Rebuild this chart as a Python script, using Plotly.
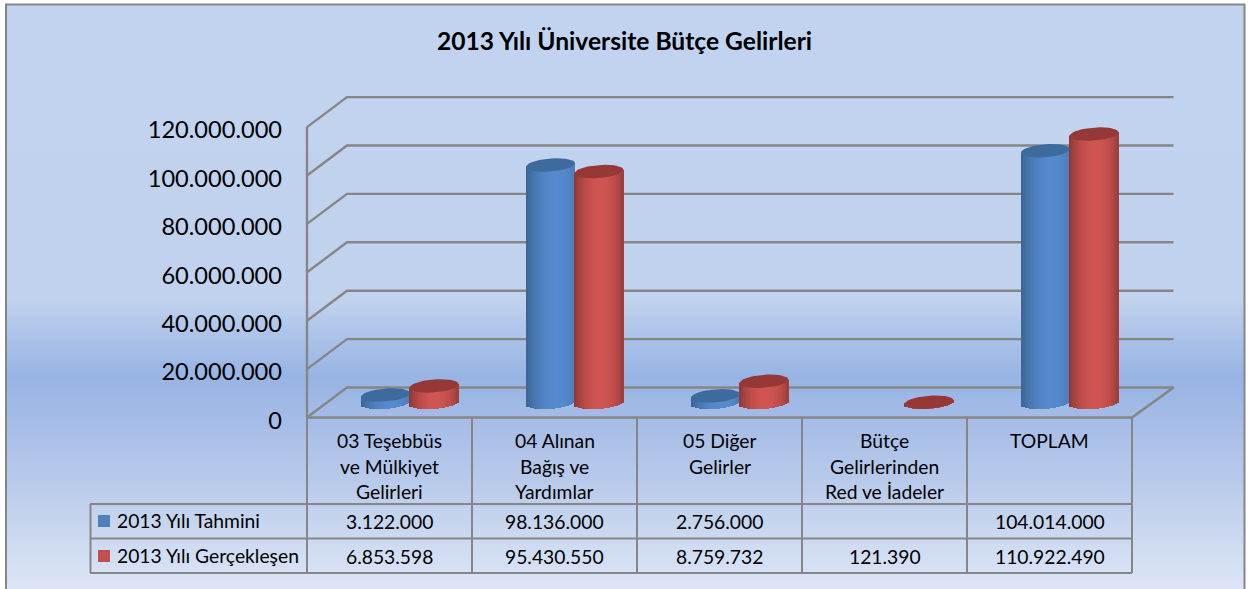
import math
import plotly.graph_objects as go

# ---- data ----
title = "2013 Yılı Üniversite Bütçe Gelirleri"
categories = [
    ["03 Teşebbüs", "ve Mülkiyet", "Gelirleri"],
    ["04 Alınan", "Bağış ve", "Yardımlar"],
    ["05 Diğer", "Gelirler"],
    ["Bütçe", "Gelirlerinden", "Red ve İadeler"],
    ["TOPLAM"],
]
tahmini_name = "2013 Yılı Tahmini"
gerceklesen_name = "2013 Yılı Gerçekleşen"
tahmini = [3122000, 98136000, 2756000, None, 104014000]
gerceklesen = [6853598, 95430550, 8759732, 121390, 110922490]
tick_values = [0, 20000000, 40000000, 60000000, 80000000, 100000000, 120000000]

# ---- layout geometry (pixels of the 1252x589 page) ----
W, H = 1252, 589
X0, CAT_W = 307, 165.0
Y0, PX_PER_UNIT = 417.5, 2.42e-6
DEPTH_X_PX, DEPTH_Y_PX = 40, 30
CYL_W_PX, CAP_B_PX, CAP_TILT_PX = 49, 6.5, 1.8
N_STRIPS = 25
GREY = "#868686"
FONT = "Lato"
TXT = 19.3


def fmt(v):
    return "" if v is None else f"{v:,}".replace(",", ".")


def xu(px):
    return (px - X0) / CAT_W - 0.5


def yu(py):
    return (Y0 - py) / PX_PER_UNIT


def py_paper(py):
    return 1 - py / H


dx = DEPTH_X_PX / CAT_W
dy = DEPTH_Y_PX / PX_PER_UNIT
base0 = dy / 2
cyl_w = CYL_W_PX / CAT_W
cap_b = CAP_B_PX / PX_PER_UNIT
cap_tilt = CAP_TILT_PX / PX_PER_UNIT
left, right = -0.5, len(categories) - 0.5

fig = go.Figure()
shapes = []
annotations = []


def lerp(c1, c2, t):
    return tuple(a + (b - a) * t for a, b in zip(c1, c2))


def css(c):
    return "rgb(%d,%d,%d)" % tuple(round(v) for v in c)


# background gradient
stops = [(0, (193, 211, 239)), (300, (192, 210, 238)), (340, (170, 194, 232)),
         (377, (151, 180, 227)), (420, (165, 188, 231)), (500, (191, 207, 236)),
         (589, (220, 230, 246))]


def bg_color(py):
    for (a, ca), (b, cb) in zip(stops, stops[1:]):
        if py <= b:
            return css(lerp(ca, cb, (py - a) / (b - a)))
    return css(stops[-1][1])


for py in range(4, 590, 3):
    shapes.append(dict(type="rect", xref="paper", yref="paper", layer="below",
                       x0=6 / W, x1=1245 / W, y0=py_paper(py + 3.5), y1=py_paper(py),
                       fillcolor=bg_color(py + 1.5), line=dict(width=0)))
# frame
shapes.append(dict(type="path", xref="paper", yref="paper", layer="below",
                   path=f"M {6/W} 0 L {6/W} {py_paper(4.5)} L {1244.5/W} {py_paper(4.5)} L {1244.5/W} 0",
                   line=dict(color=GREY, width=2)))

# walls / grid
right_back = right + dx + 1.5 / CAT_W
for v in tick_values:
    pts = f"M {left} {v} L {left+dx} {v+dy} L {right_back} {v+dy}"
    shapes.append(dict(type="path", xref="x", yref="y", layer="below", path=pts,
                       line=dict(color=GREY, width=2.4)))
# y axis line, floor outline
shapes.append(dict(type="line", xref="x", yref="y", layer="below", x0=left, x1=left,
                   y0=0, y1=tick_values[-1], line=dict(color=GREY, width=2.4)))
shapes.append(dict(type="path", xref="x", yref="y", layer="below",
                   path=f"M {left} 0 L {right} 0 L {right_back} {dy}",
                   line=dict(color=GREY, width=2.6)))

# data table
rows_py = [504, 538.5, 573]
for i in range(len(categories) + 1):
    shapes.append(dict(type="line", xref="x", yref="paper", x0=left + i, x1=left + i,
                       y0=py_paper(573), y1=py_paper(417.5), layer="below",
                       line=dict(color=GREY, width=2)))
for py in rows_py:
    shapes.append(dict(type="line", xref="paper", yref="paper", layer="below",
                       x0=90 / W, x1=(X0 + CAT_W * len(categories)) / W,
                       y0=py_paper(py), y1=py_paper(py), line=dict(color=GREY, width=2)))
shapes.append(dict(type="line", xref="paper", yref="paper", layer="below", x0=90.5 / W, x1=90.5 / W,
                   y0=py_paper(573), y1=py_paper(504), line=dict(color=GREY, width=2)))

series = [
    (tahmini, tahmini_name, -cyl_w / 2, (58, 98, 148), (85, 138, 204), 0.25, "#3E6B9E", "#4F81BD", 521),
    (gerceklesen, gerceklesen_name, cyl_w / 2 - 0.5 / CAT_W, (136, 54, 52), (208, 85, 82), 0.05, "#953836", "#C0504D", 556),
]
for vals, name, off, edge, peak, u0, top_col, key_col, row_py in series:
    xs = [i + dx / 2 + 0.5 / CAT_W + off for i in range(len(vals))]
    sw = cyl_w / N_STRIPS
    for s in range(N_STRIPS):
        u = -1 + (s + 0.5) * 2 / N_STRIPS
        f = math.cos(math.pi / 2 * (u - u0) / (1 + abs(u0)))
        col = css(lerp(edge, peak, max(f, 0) ** 0.8))
        tilt = cap_tilt * u
        semi = cap_b * math.sqrt(max(1 - u * u, 0))
        sx = [x + u * cyl_w / 2 for x in xs]
        # lower curved rim of the cylinder
        fig.add_bar(x=sx, y=[None if v is None else semi for v in vals],
                    base=base0 + tilt - semi, width=sw * 1.05, marker=dict(color=col, line=dict(width=0)),
                    hoverinfo="skip", showlegend=False)
        # body, height = the value
        fig.add_bar(x=sx, y=vals, base=base0 + tilt, width=sw * 1.05,
                    marker=dict(color=col, line=dict(width=0)),
                    hoverinfo="skip", showlegend=False)
    # top caps
    cx, cy = [], []
    for x, v in zip(xs, vals):
        if v is None:
            continue
        for k in range(49):
            t = 2 * math.pi * k / 48
            c, sn = math.cos(t), math.sin(t)
            cx.append(x + c * cyl_w / 2)
            cy.append(v + base0 + cap_tilt * c + cap_b * sn)
        cx.append(None)
        cy.append(None)
    fig.add_trace(go.Scatter(x=cx, y=cy, mode="lines", fill="toself", fillcolor=top_col,
                             line=dict(width=0), hoverinfo="skip", showlegend=False))
    # table row: legend key, name, values
    shapes.append(dict(type="rect", xref="paper", yref="paper", layer="below",
                       x0=98 / W, x1=110 / W, y0=py_paper(row_py + 6), y1=py_paper(row_py - 6),
                       fillcolor=key_col, line=dict(width=0)))
    annotations.append(dict(text=name, xref="paper", yref="paper", x=115 / W, y=py_paper(row_py - 0.5),
                            xanchor="left", yanchor="middle", showarrow=False,
                            font=dict(family=FONT, size=TXT, color="#000")))
    for i, v in enumerate(vals):
        annotations.append(dict(text=fmt(v) or " ", xref="x", yref="paper", x=i, y=py_paper(row_py),
                                xanchor="center", yanchor="middle", showarrow=False,
                                font=dict(family=FONT, size=TXT, color="#000")))

# category labels
line_py = [440, 466, 491.5]
for i, lines in enumerate(categories):
    for j, txt in enumerate(lines):
        annotations.append(dict(text=txt, xref="x", yref="paper", x=i, y=py_paper(line_py[j]),
                                xanchor="center", yanchor="middle", showarrow=False,
                                font=dict(family=FONT, size=TXT, color="#000")))

fig.update_layout(
    width=W, height=H, margin=dict(l=0, r=0, t=0, b=0),
    paper_bgcolor="white", plot_bgcolor="rgba(0,0,0,0)",
    barmode="overlay", showlegend=False, bargap=0,
    shapes=shapes, annotations=annotations,
    title=dict(text=f"<b>{title}</b>", x=624.5 / W, xanchor="center", y=py_paper(41), yanchor="middle",
               font=dict(family=FONT, size=24.6, color="#000")),
    xaxis=dict(range=[xu(0), xu(W)], visible=False, domain=[0, 1], fixedrange=True),
    yaxis=dict(range=[yu(H), yu(0)], domain=[0, 1], anchor="free", position=X0 / W, showgrid=False,
               zeroline=False, showline=False, ticks="", tickvals=tick_values,
               ticktext=[fmt(v) for v in tick_values], ticklabelstandoff=25, ticklabelshift=3,
               tickfont=dict(family=FONT, size=23.6, color="#000"), fixedrange=True),
)
fig.write_html("out.html", config=dict(displayModeBar=False),
               post_script="document.body.style.margin='0';document.body.style.overflow='hidden';")
